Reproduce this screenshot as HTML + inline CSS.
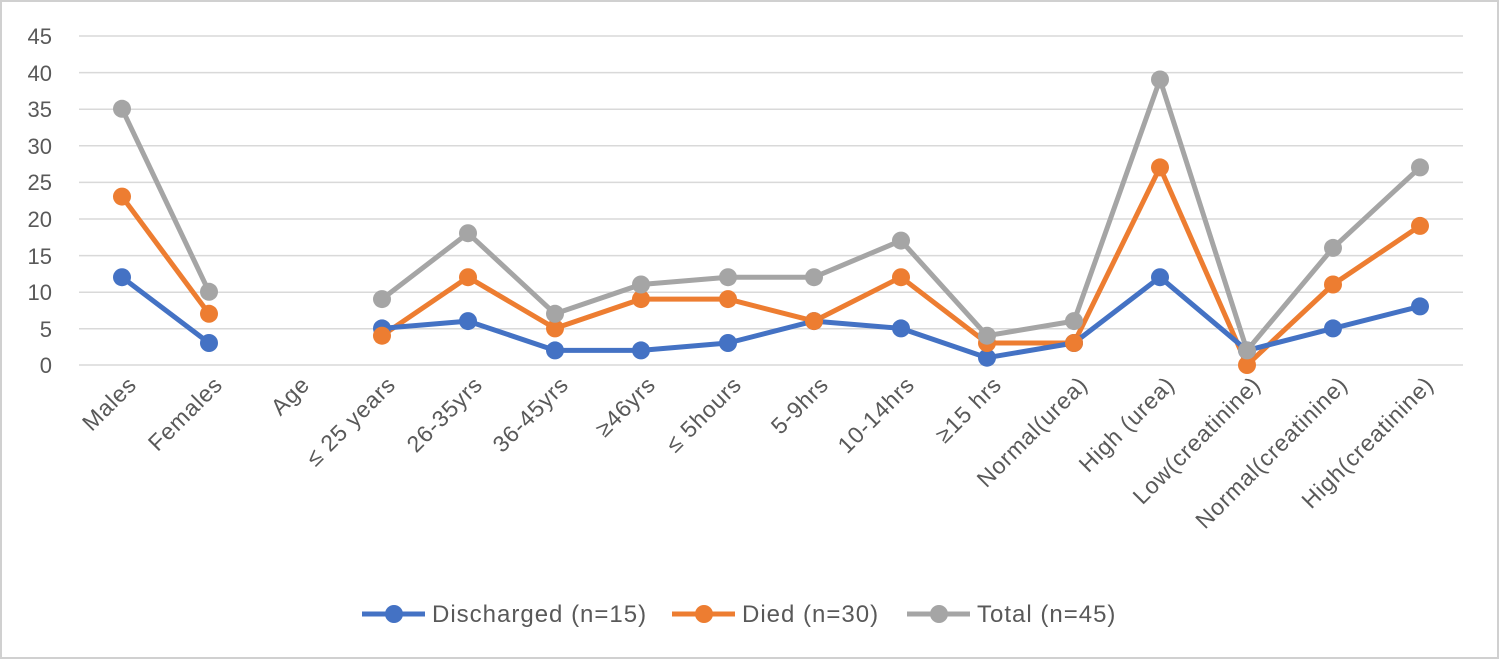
<!DOCTYPE html>
<html><head><meta charset="utf-8"><style>
html,body{margin:0;padding:0;background:#fff}
svg{display:block}
text{font-family:"Liberation Sans","DejaVu Sans",sans-serif;fill:#595959}
</style></head><body>
<svg width="1500" height="660" viewBox="0 0 1500 660" xmlns="http://www.w3.org/2000/svg">
<rect x="1" y="1" width="1497" height="657" fill="#fff" stroke="#d0d0d0" stroke-width="2"/>
<g stroke="#d9d9d9" stroke-width="1.5">
<line x1="79" x2="1463" y1="36" y2="36"/><line x1="79" x2="1463" y1="72.6" y2="72.6"/>
<line x1="79" x2="1463" y1="109.2" y2="109.2"/><line x1="79" x2="1463" y1="145.8" y2="145.8"/>
<line x1="79" x2="1463" y1="182.4" y2="182.4"/><line x1="79" x2="1463" y1="219" y2="219"/>
<line x1="79" x2="1463" y1="255.6" y2="255.6"/><line x1="79" x2="1463" y1="292.2" y2="292.2"/>
<line x1="79" x2="1463" y1="328.8" y2="328.8"/><line x1="79" x2="1463" y1="365" y2="365"/>
</g>
<g font-size="22" text-anchor="end">
<text x="52" y="44">45</text><text x="52" y="81">40</text><text x="52" y="117">35</text>
<text x="52" y="154">30</text><text x="52" y="190">25</text><text x="52" y="227">20</text>
<text x="52" y="264">15</text><text x="52" y="300">10</text><text x="52" y="337">5</text><text x="52" y="373">0</text>
</g>
<g font-size="23" text-anchor="end" letter-spacing="0.8">
<text transform="translate(138,386) rotate(-45)">Males</text>
<text transform="translate(224,386) rotate(-45)">Females</text>
<text transform="translate(311,386) rotate(-45)">Age</text>
<text transform="translate(397,386) rotate(-45)">≤ 25 years</text>
<text transform="translate(484,386) rotate(-45)">26-35yrs</text>
<text transform="translate(570,386) rotate(-45)">36-45yrs</text>
<text transform="translate(657,386) rotate(-45)">≥46yrs</text>
<text transform="translate(743,386) rotate(-45)">≤ 5hours</text>
<text transform="translate(830,386) rotate(-45)">5-9hrs</text>
<text transform="translate(916,386) rotate(-45)">10-14hrs</text>
<text transform="translate(1003,386) rotate(-45)">≥15 hrs</text>
<text transform="translate(1089,386) rotate(-45)">Normal(urea)</text>
<text transform="translate(1176,386) rotate(-45)">High (urea)</text>
<text transform="translate(1262,386) rotate(-45)">Low(creatinine)</text>
<text transform="translate(1349,386) rotate(-45)">Normal(creatinine)</text>
<text transform="translate(1435,386) rotate(-45)">High(creatinine)</text>
</g>
<g fill="none" stroke-width="5" stroke-linejoin="round">
<polyline stroke="#a5a5a5" points="122,108.8 209,291.8"/>
<polyline stroke="#a5a5a5" points="382,299.1 468,233.2 555,313.8 641,284.5 728,277.2 814,277.2 901,240.6 987,335.7 1074,321.1 1160,79.5 1247,350.4 1333,247.9 1420,167.4"/>
<polyline stroke="#ed7d31" points="122,196.6 209,313.8"/>
<polyline stroke="#ed7d31" points="382,335.7 468,277.2 555,328.4 641,299.1 728,299.1 814,321.1 901,277.2 987,343 1074,343 1160,167.4 1247,365 1333,284.5 1420,225.9"/>
<polyline stroke="#4472c4" points="122,277.2 209,343"/>
<polyline stroke="#4472c4" points="382,328.4 468,321.1 555,350.4 641,350.4 728,343 814,321.1 901,328.4 987,357.7 1074,343 1160,277.2 1247,350.4 1333,328.4 1420,306.4"/>
</g>
<g fill="#4472c4">
<circle cx="122" cy="277.2" r="9"/><circle cx="209" cy="343" r="9"/><circle cx="382" cy="328.4" r="9"/><circle cx="468" cy="321.1" r="9"/><circle cx="555" cy="350.4" r="9"/><circle cx="641" cy="350.4" r="9"/><circle cx="728" cy="343" r="9"/><circle cx="814" cy="321.1" r="9"/><circle cx="901" cy="328.4" r="9"/><circle cx="987" cy="357.7" r="9"/><circle cx="1074" cy="343" r="9"/><circle cx="1160" cy="277.2" r="9"/><circle cx="1247" cy="350.4" r="9"/><circle cx="1333" cy="328.4" r="9"/><circle cx="1420" cy="306.4" r="9"/>
</g>
<g fill="#ed7d31">
<circle cx="122" cy="196.6" r="9"/><circle cx="209" cy="313.8" r="9"/><circle cx="382" cy="335.7" r="9"/><circle cx="468" cy="277.2" r="9"/><circle cx="555" cy="328.4" r="9"/><circle cx="641" cy="299.1" r="9"/><circle cx="728" cy="299.1" r="9"/><circle cx="814" cy="321.1" r="9"/><circle cx="901" cy="277.2" r="9"/><circle cx="987" cy="343" r="9"/><circle cx="1074" cy="343" r="9"/><circle cx="1160" cy="167.4" r="9"/><circle cx="1247" cy="365" r="9"/><circle cx="1333" cy="284.5" r="9"/><circle cx="1420" cy="225.9" r="9"/>
</g>
<g fill="#a5a5a5">
<circle cx="122" cy="108.8" r="9"/><circle cx="209" cy="291.8" r="9"/><circle cx="382" cy="299.1" r="9"/><circle cx="468" cy="233.2" r="9"/><circle cx="555" cy="313.8" r="9"/><circle cx="641" cy="284.5" r="9"/><circle cx="728" cy="277.2" r="9"/><circle cx="814" cy="277.2" r="9"/><circle cx="901" cy="240.6" r="9"/><circle cx="987" cy="335.7" r="9"/><circle cx="1074" cy="321.1" r="9"/><circle cx="1160" cy="79.5" r="9"/><circle cx="1247" cy="350.4" r="9"/><circle cx="1333" cy="247.9" r="9"/><circle cx="1420" cy="167.4" r="9"/>
</g>
<g font-size="24" letter-spacing="1">
<line x1="362" x2="425" y1="614" y2="614" stroke="#4472c4" stroke-width="5"/><circle cx="394" cy="614" r="9" fill="#4472c4"/>
<text x="432" y="622">Discharged (n=15)</text>
<line x1="672" x2="735" y1="614" y2="614" stroke="#ed7d31" stroke-width="5"/><circle cx="704" cy="614" r="9" fill="#ed7d31"/>
<text x="742" y="622">Died (n=30)</text>
<line x1="907" x2="970" y1="614" y2="614" stroke="#a5a5a5" stroke-width="5"/><circle cx="939" cy="614" r="9" fill="#a5a5a5"/>
<text x="977" y="622">Total (n=45)</text>
</g>
</svg>
</body></html>
